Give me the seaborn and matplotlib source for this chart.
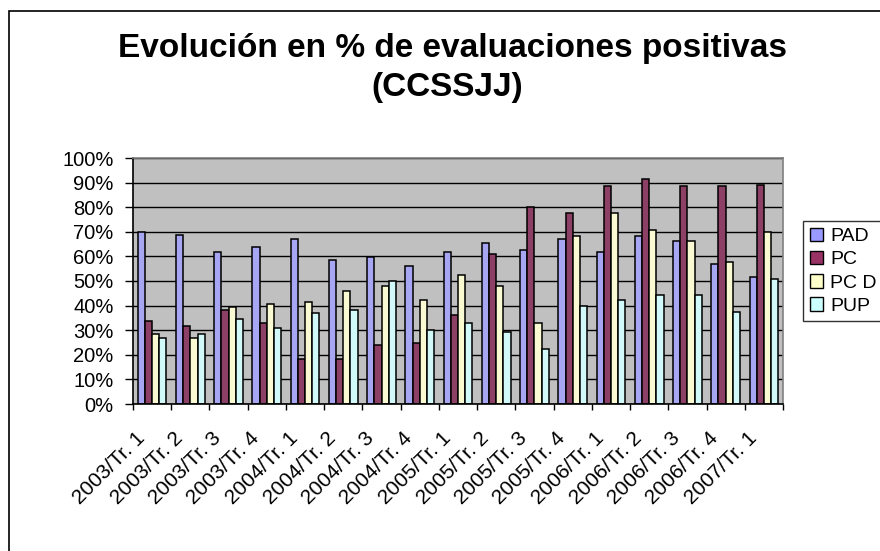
import numpy as np
import pandas as pd
import matplotlib
matplotlib.use("Agg")
import matplotlib.pyplot as plt
from matplotlib.patches import Rectangle, Patch
from matplotlib.ticker import FixedLocator, PercentFormatter
from matplotlib.transforms import ScaledTranslation
import seaborn as sns

# Datos (% de evaluaciones positivas)
periodos = ["2003/Tr. 1", "2003/Tr. 2", "2003/Tr. 3", "2003/Tr. 4",
            "2004/Tr. 1", "2004/Tr. 2", "2004/Tr. 3", "2004/Tr. 4",
            "2005/Tr. 1", "2005/Tr. 2", "2005/Tr. 3", "2005/Tr. 4",
            "2006/Tr. 1", "2006/Tr. 2", "2006/Tr. 3", "2006/Tr. 4",
            "2007/Tr. 1"]
series = ["PAD", "PC", "PC D", "PUP"]
pad = [70.0, 68.5, 61.6, 63.9, 67.0, 58.5, 59.9, 56.2, 61.6, 65.4, 62.4,
       67.0, 61.6, 68.3, 66.2, 56.8, 51.6]
pc = [33.8, 31.7, 38.4, 33.0, 18.4, 18.4, 23.8, 24.6, 36.1, 60.8, 80.0,
      77.7, 88.5, 91.5, 88.5, 88.5, 89.2]
pcd = [28.6, 26.9, 39.4, 40.7, 41.5, 46.1, 47.8, 42.4, 52.4, 47.8, 33.0,
       68.3, 77.7, 70.8, 66.2, 57.6, 70.0]
pup = [26.9, 28.6, 34.6, 30.7, 36.9, 38.4, 50.1, 30.0, 33.0, 29.2, 22.3,
       39.9, 42.4, 44.5, 44.5, 37.6, 50.7]
colores = ["#9999FF", "#993366", "#FFFFCC", "#CCFFFF"]

df = pd.DataFrame({
    "periodo": periodos * 4,
    "serie": np.repeat(series, len(periodos)),
    "valor": pad + pc + pcd + pup,
})

plt.rcParams["font.family"] = ["Liberation Sans", "DejaVu Sans"]

fig = plt.figure(figsize=(8.8, 5.51), dpi=100)
ax = fig.add_axes([133 / 880, 1 - 404 / 551, 650 / 880, 246 / 551])
ax.set_facecolor("#C0C0C0")

sns.barplot(data=df, x="periodo", y="valor", hue="serie", order=periodos,
            hue_order=series, palette=colores, edgecolor="black",
            linewidth=1.1, width=0.75, ax=ax, legend=False)

ax.set_xlim(-0.5, len(periodos) - 0.5)
ax.set_ylim(0, 100)
ax.set_yticks(np.arange(0, 101, 10))
ax.yaxis.set_major_formatter(PercentFormatter(decimals=0))
ax.grid(axis="y", color="black", linewidth=1.0)
ax.set_axisbelow(True)
ax.set_xlabel("")
ax.set_ylabel("")

# ticks del eje x entre grupos
ax.xaxis.set_minor_locator(FixedLocator(np.arange(-0.5, len(periodos), 1)))
ax.tick_params(axis="x", which="major", length=0, pad=10)
ax.tick_params(axis="x", which="minor", length=4, width=1, color="black")
ax.tick_params(axis="y", length=6, width=1, color="black", labelsize=14.5, pad=8)
ax.set_xticks(range(len(periodos)))
ax.set_xticklabels(periodos, rotation=45, ha="right", rotation_mode="anchor",
                   fontsize=15)
desplaza = ScaledTranslation(-0.17, -0.11, fig.dpi_scale_trans)
for lbl in ax.get_xticklabels():
    lbl.set_transform(lbl.get_transform() + desplaza)

for side in ["top", "right"]:
    ax.spines[side].set_color("#808080")
    ax.spines[side].set_linewidth(1.2)
for side in ["left", "bottom"]:
    ax.spines[side].set_color("black")
    ax.spines[side].set_linewidth(1.2)

# marco exterior del grafico
fig.patches.append(Rectangle((9 / 880, -0.1), 1.0, 1 - 11 / 551 + 0.1,
                             transform=fig.transFigure, fill=False,
                             edgecolor="black", linewidth=1.2))

fig.text(452 / 880, 1 - 48 / 551, "Evolución en % de evaluaciones positivas",
         ha="center", va="center", fontsize=24, fontweight="bold")
fig.text(447 / 880, 1 - 88 / 551, "(CCSSJJ)",
         ha="center", va="center", fontsize=24, fontweight="bold")

handles = [Patch(facecolor=c, edgecolor="black", linewidth=1.0) for c in colores]
leg = fig.legend(handles, series, loc="upper left",
                 bbox_to_anchor=(803 / 880, 1 - 221 / 551),
                 frameon=True, fancybox=False, fontsize=14,
                 handlelength=0.7, handleheight=0.7, handletextpad=0.35,
                 labelspacing=0.28, borderpad=0.35, borderaxespad=0)
leg.get_frame().set_edgecolor("black")
leg.get_frame().set_linewidth(1.0)

fig.savefig("out.png", dpi=100)
